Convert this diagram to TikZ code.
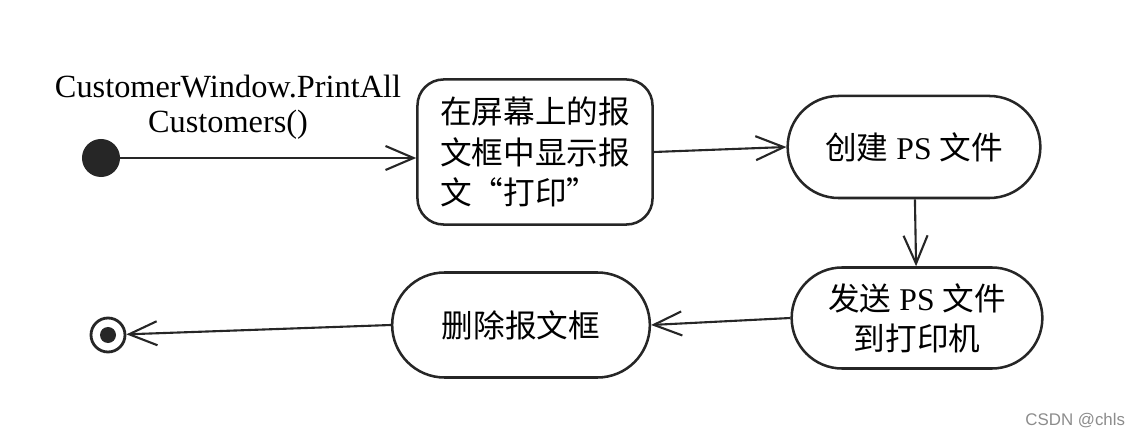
\documentclass[tikz,border=0pt]{standalone}
\usepackage{fontspec}
\setmainfont{Liberation Serif}
\setsansfont{Liberation Sans}
\newfontfamily\cjk{Noto Sans CJK SC}
\usetikzlibrary{arrows.meta}
\usetikzlibrary{shapes.misc,positioning}
\tikzset{>={Straight Barb[length=0.7cm,width=0.6cm]},
  action/.style={draw=black!85,line width=1.8pt,rounded rectangle,
    align=center,font=\fontsize{22.5}{28.5}\selectfont},
  msgbox/.style={draw=black!85,line width=1.8pt,rounded corners=0.65cm,
    align=left,font=\fontsize{22.5}{29}\selectfont},
  flow/.style={->,line width=1.5pt,black!85}}

\begin{document}
\begin{tikzpicture}[x=0.025cm,y=-0.025cm]

  \useasboundingbox (0,0) rectangle (1142,438);

  % start and end states
  \node [circle,fill=black!85,minimum size=0.95cm,inner sep=0] (start) at (101,158) {};
  \node [circle,draw=black!85,line width=2pt,minimum size=0.85cm,inner sep=0] (end) at (108,335) {};
  \fill [black!85] (end) circle (0.2cm);

  \node [align=center,font=\fontsize{23}{25}\selectfont] (call) at (228,107)
    {CustomerWindow.PrintAll\\Customers()};

  % activities
  \node [msgbox,minimum width=5.875cm,minimum height=3.625cm] (show) at (535,152)
    {\cjk 在屏幕上的报\\\cjk 文框中显示报\\\cjk 文“打印”};
  \node [action,minimum width=6.55cm,minimum height=2.55cm] (create) at (914,147)
    {{\cjk 创建} PS {\cjk 文件}};
  \node [action,minimum width=6.5cm,minimum height=2.525cm] (send) at (917,318)
    {{\cjk 发送} PS {\cjk 文件}\\\cjk 到打印机};
  \node [action,minimum width=6.675cm,minimum height=2.625cm] (delete) at (521,325)
    {\cjk 删除报文框};

  % transitions
  \draw [flow] (start) -- (start -| show.west);
  \draw [flow] (show.east) -- (create.west);
  \draw [flow] (create) -- (send);
  \draw [flow] (send.west) -- (delete.east);
  \draw [flow] (delete.west) -- (end);

  \node [anchor=east,text=black!45,font=\sffamily\fontsize{12}{14}\selectfont] (mark) at (1130,421) {CSDN @chls};

\end{tikzpicture}
\end{document}
